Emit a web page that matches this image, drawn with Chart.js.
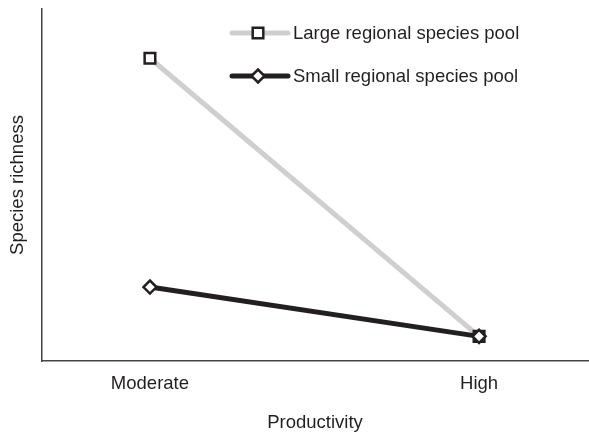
<!DOCTYPE html>
<html>
<head>
<meta charset="utf-8">
<script src="https://cdn.jsdelivr.net/npm/chart.js@4.4.1/dist/chart.umd.min.js"></script>
<style>
  html, body { margin: 0; padding: 0; background: #fff; }
  #wrap { width: 589px; height: 434px; }
</style>
</head>
<body>
<div id="wrap"><canvas id="chart" width="589" height="434"></canvas></div>
<script>
const categories = ['Moderate', 'High'];
const largePool = [8.6, 0.7];
const smallPool = [2.1, 0.7];
const seriesNames = ['Large regional species pool', 'Small regional species pool'];

const ink = '#231f20';
const grey = '#cfcfcf';
const font = "'Liberation Sans', Arial, sans-serif";
const fontSize = 18.5;

const toPoints = values => values.map((v, i) => ({ x: i, y: v }));

// legend drawn by hand: line with the marker in the middle
const legendPlugin = {
    id: 'lineLegend',
    afterDraw(chart) {
        const ctx = chart.ctx;
        const rows = [
            { y: 33, color: grey, style: 'rect', radius: 7.5, label: seriesNames[0] },
            { y: 76, color: ink, style: 'rectRot', radius: 6.5, label: seriesNames[1] }
        ];
        ctx.save();
        for (const row of rows) {
            ctx.strokeStyle = row.color;
            ctx.lineWidth = 5;
            ctx.lineCap = 'round';
            ctx.beginPath();
            ctx.moveTo(232, row.y);
            ctx.lineTo(288, row.y);
            ctx.stroke();
            ctx.fillStyle = '#fff';
            ctx.strokeStyle = ink;
            ctx.lineWidth = 2.5;
            Chart.helpers.drawPoint(ctx, { pointStyle: row.style, radius: row.radius, borderWidth: 2.5 }, 258, row.y);
            ctx.fillStyle = ink;
            ctx.font = `${fontSize}px ${font}`;
            ctx.textBaseline = 'middle';
            ctx.fillText(row.label, 293, row.y + 1);
        }
        ctx.restore();
    }
};

new Chart(document.getElementById('chart'), {
    type: 'line',
    data: {
        datasets: [
            {
                label: seriesNames[0],
                data: toPoints(largePool),
                borderColor: grey,
                borderWidth: 5,
                pointStyle: 'rect',
                pointRadius: 7.5,
                pointBorderWidth: 2.5,
                pointBorderColor: ink,
                pointBackgroundColor: '#fff',
                order: 2
            },
            {
                label: seriesNames[1],
                data: toPoints(smallPool),
                borderColor: ink,
                borderWidth: 5,
                pointStyle: 'rectRot',
                pointRadius: 6.5,
                pointBorderWidth: 2.5,
                pointBorderColor: ink,
                pointBackgroundColor: '#fff',
                order: 1
            }
        ]
    },
    options: {
        responsive: false,
        animation: false,
        layout: { autoPadding: false, padding: { top: 9, right: 1, left: 0, bottom: 0 } },
        plugins: { legend: { display: false }, tooltip: { enabled: false } },
        scales: {
            x: {
                type: 'linear',
                min: -0.328,
                max: 1.331,
                grid: { display: false },
                border: { display: true, color: '#444', width: 1.5 },
                afterBuildTicks: s => { s.ticks = categories.map((c, i) => ({ value: i })); },
                afterFit: s => { s.height = 73; s.paddingLeft = 0; s.paddingRight = 0; },
                ticks: {
                    color: ink,
                    font: { family: font, size: fontSize },
                    padding: 4,
                    maxRotation: 0,
                    callback: v => categories[v]
                },
                title: {
                    display: true,
                    text: 'Productivity',
                    color: ink,
                    font: { family: font, size: fontSize },
                    padding: { top: 0, bottom: 0 }
                }
            },
            y: {
                min: 0,
                max: 10,
                grid: { display: false },
                border: { display: true, color: '#444', width: 1.5 },
                ticks: { display: false },
                afterFit: s => { s.width = 42; s.paddingTop = 0; s.paddingBottom = 0; },
                title: {
                    display: true,
                    text: 'Species richness',
                    color: ink,
                    font: { family: font, size: fontSize },
                    padding: { top: 7, bottom: 0 }
                }
            }
        }
    },
    plugins: [legendPlugin]
});
</script>
</body>
</html>
